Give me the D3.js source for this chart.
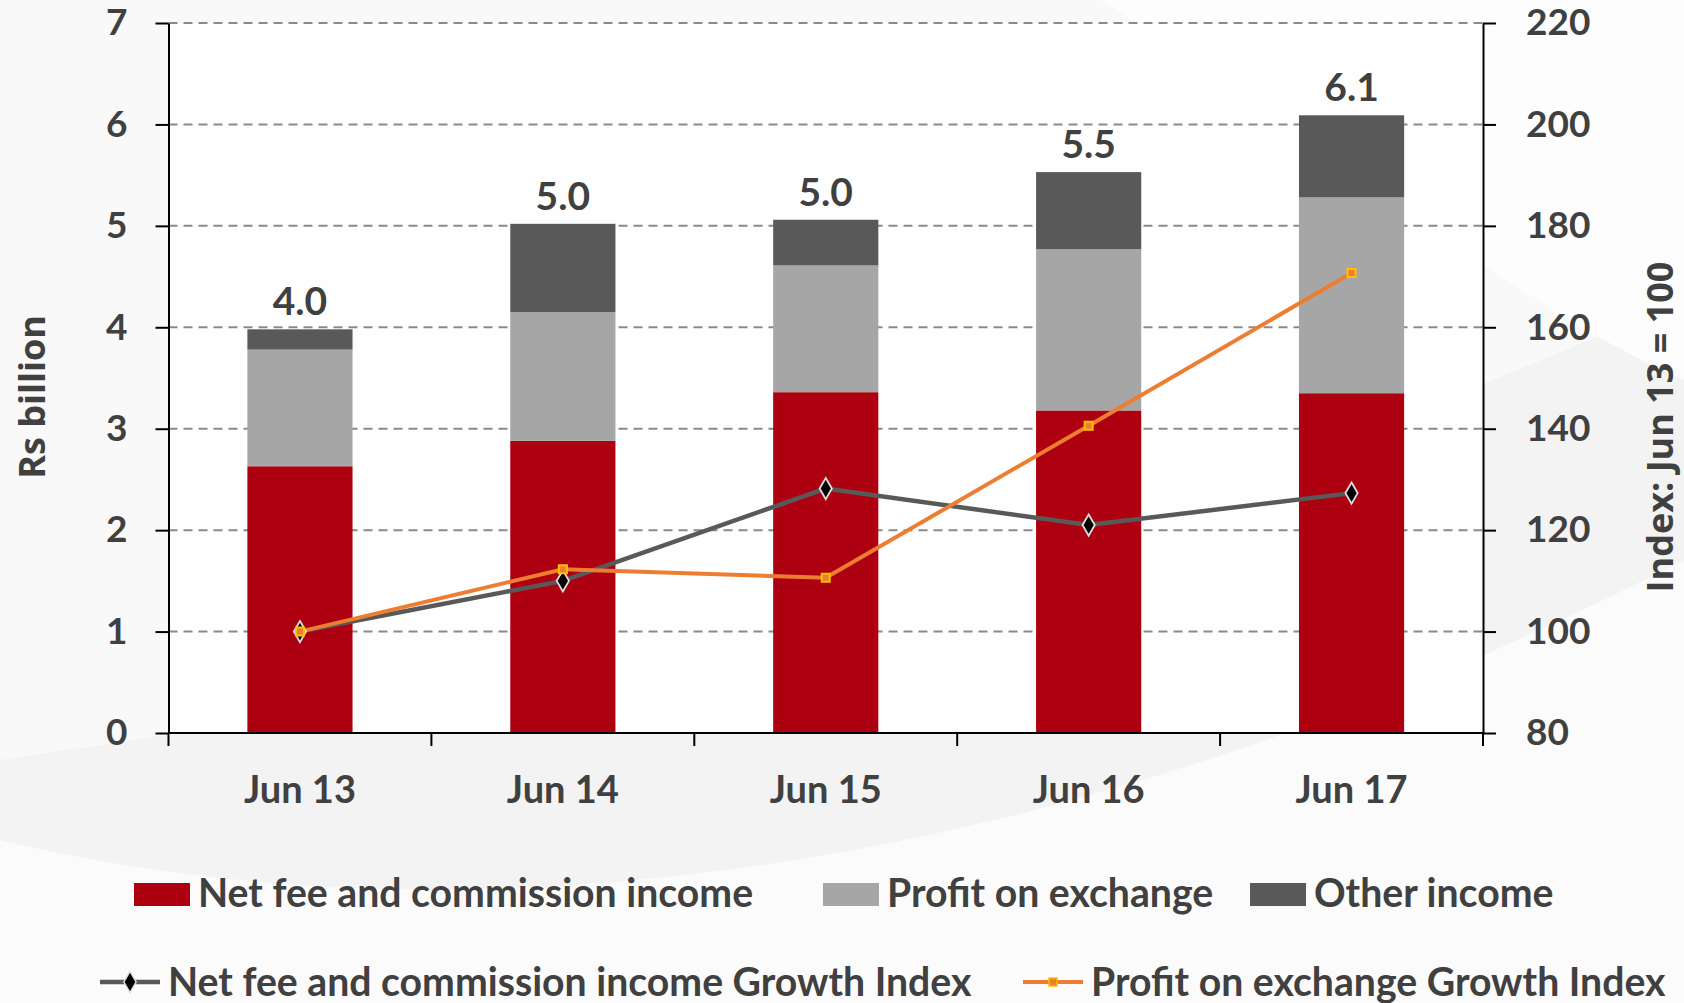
<!DOCTYPE html>
<html>
<head>
<meta charset="utf-8">
<script src="https://cdn.jsdelivr.net/npm/d3@7"></script>
<style>
  html, body { margin: 0; padding: 0; background: #fafafa; }
  svg { display: block; }
  .tick text { font-family: Lato, "Liberation Sans", sans-serif; font-weight: 700; fill: #404040; }
</style>
</head>
<body>
<svg id="chart"></svg>
<script>
"use strict";

// values
var categories = ['Jun 13', 'Jun 14', 'Jun 15', 'Jun 16', 'Jun 17'];
var netFee = [2.63, 2.88, 3.36, 3.18, 3.35];
var exchange = [1.15, 1.27, 1.25, 1.59, 1.93];
var other = [0.20, 0.87, 0.45, 0.76, 0.81];
var totalLabels = ['4.0', '5.0', '5.0', '5.5', '6.1'];
var netFeeIndex = [100, 110, 128.2, 121, 127.3];
var exchangeIndex = [100, 112.3, 110.6, 140.6, 170.7];
var leftTicks = [0, 1, 2, 3, 4, 5, 6, 7];
var rightTicks = [80, 100, 120, 140, 160, 180, 200, 220];

var W = 1684, H = 1003;
var svg = d3.select('#chart').attr('width', W).attr('height', H);

// faint background swooshes
var bg = svg.append('g');
bg.append('rect').attr('width', W).attr('height', H).attr('fill', '#f9f9f9');
bg.append('path')
  .attr('d', 'M0 760 C400 700 900 640 1684 300 L1684 1003 L0 1003 Z')
  .attr('fill', '#f3f3f3');
bg.append('path')
  .attr('d', 'M0 840 C500 960 1100 860 1684 560 L1684 1003 L0 1003 Z')
  .attr('fill', '#fbfbfb');
bg.append('path')
  .attr('d', 'M1100 0 C1300 120 1500 300 1684 380 L1684 0 Z')
  .attr('fill', '#fdfdfd');

var pLeft = 168.5, pRight = 1483, pTop = 23, pBottom = 733;

bg.append('rect')
  .attr('x', pLeft).attr('y', pTop)
  .attr('width', pRight - pLeft).attr('height', pBottom - pTop)
  .attr('fill', '#fefefe');

var x = d3.scaleBand()
  .domain(categories)
  .range([pLeft, pRight])
  .paddingInner(0.6)
  .paddingOuter(0.3);

var yL = d3.scaleLinear().domain([0, 7]).range([pBottom, pTop]);
var yR = d3.scaleLinear().domain([80, 220]).range([pBottom, pTop]);

// dashed gridlines
svg.append('g')
  .selectAll('line')
  .data(leftTicks.filter(function (d) { return d > 0; }))
  .join('line')
  .attr('x1', pLeft).attr('x2', pRight)
  .attr('y1', function (d) { return yL(d); })
  .attr('y2', function (d) { return yL(d); })
  .attr('stroke', '#8a8a8a')
  .attr('stroke-width', 2)
  .attr('stroke-dasharray', '9,6');

// stacked bars
var rows = categories.map(function (c, i) {
  return { cat: c, netFee: netFee[i], exchange: exchange[i], other: other[i] };
});
var keys = ['netFee', 'exchange', 'other'];
var colors = { netFee: '#ad0010', exchange: '#a6a6a6', other: '#595959' };
var stacked = d3.stack().keys(keys)(rows);

svg.append('g')
  .selectAll('g')
  .data(stacked)
  .join('g')
  .attr('fill', function (s) { return colors[s.key]; })
  .selectAll('rect')
  .data(function (s) { return s; })
  .join('rect')
  .attr('x', function (d) { return x(d.data.cat); })
  .attr('width', x.bandwidth())
  .attr('y', function (d) { return yL(d[1]); })
  .attr('height', function (d) { return yL(d[0]) - yL(d[1]); });

// totals on top
svg.append('g')
  .selectAll('text')
  .data(rows)
  .join('text')
  .attr('x', function (d) { return x(d.cat) + x.bandwidth() / 2; })
  .attr('y', function (d) { return yL(d.netFee + d.exchange + d.other) - 14; })
  .attr('text-anchor', 'middle')
  .attr('font-family', 'Lato, sans-serif')
  .attr('font-weight', 700)
  .attr('font-size', 39)
  .attr('fill', '#404040')
  .text(function (d, i) { return totalLabels[i]; });

// axes
var axisL = svg.append('g')
  .attr('transform', 'translate(' + pLeft + ',0)')
  .call(d3.axisLeft(yL).tickValues(leftTicks).tickSize(13).tickSizeOuter(0).tickPadding(28).tickFormat(d3.format('d')));
var axisR = svg.append('g')
  .attr('transform', 'translate(' + pRight + ',0)')
  .call(d3.axisRight(yR).tickValues(rightTicks).tickSize(13).tickSizeOuter(0).tickPadding(30).tickFormat(d3.format('d')));
var axisB = svg.append('g')
  .attr('transform', 'translate(0,' + pBottom + ')')
  .call(d3.axisBottom(x).tickSize(0).tickPadding(43));

[axisL, axisR].forEach(function (a) {
  a.selectAll('text').attr('font-size', 37);
});
axisB.selectAll('text').attr('font-size', 38);
axisB.select('.domain').attr('d', 'M' + pLeft + ',0H' + pRight);

// category boundary ticks
var bounds = categories.map(function (c) { return x(c) - x.step() * 0.3; });
bounds.push(pRight);
axisB.selectAll('.bound')
  .data(bounds)
  .join('line')
  .attr('class', 'bound')
  .attr('x1', function (d) { return d; })
  .attr('x2', function (d) { return d; })
  .attr('y1', 0).attr('y2', 13);

svg.selectAll('.domain, .tick line, .bound')
  .attr('stroke', '#000')
  .attr('stroke-width', 2);

// index lines
var cx = function (d, i) { return x(categories[i]) + x.bandwidth() / 2; };
var lineR = d3.line().x(cx).y(function (d) { return yR(d); });

svg.append('path')
  .datum(netFeeIndex)
  .attr('d', lineR)
  .attr('fill', 'none')
  .attr('stroke', '#595959')
  .attr('stroke-width', 4.5);

svg.append('path')
  .datum(exchangeIndex)
  .attr('d', lineR)
  .attr('fill', 'none')
  .attr('stroke', '#ed7d31')
  .attr('stroke-width', 4);

var diamond = d3.symbol().type(d3.symbolDiamond).size(130);
var square = d3.symbol().type(d3.symbolSquare).size(64);

svg.append('g')
  .selectAll('path')
  .data(netFeeIndex)
  .join('path')
  .attr('transform', function (d, i) { return 'translate(' + cx(d, i) + ',' + yR(d) + ')'; })
  .attr('d', diamond)
  .attr('fill', '#000')
  .attr('stroke', '#e0e0e0')
  .attr('stroke-width', 1.8);

svg.append('g')
  .selectAll('path')
  .data(exchangeIndex)
  .join('path')
  .attr('transform', function (d, i) { return 'translate(' + cx(d, i) + ',' + yR(d) + ')'; })
  .attr('d', square)
  .attr('fill', '#ed7d31')
  .attr('stroke', '#ffc000')
  .attr('stroke-width', 2);

// axis titles
svg.append('text')
  .attr('transform', 'translate(45,397) rotate(-90)')
  .attr('text-anchor', 'middle')
  .attr('font-family', '"Open Sans", sans-serif')
  .attr('font-weight', 700)
  .attr('font-size', 36)
  .attr('fill', '#404040')
  .text('Rs billion');

svg.append('text')
  .attr('transform', 'translate(1673,427) rotate(-90)')
  .attr('text-anchor', 'middle')
  .attr('font-family', '"Open Sans", sans-serif')
  .attr('font-weight', 700)
  .attr('font-size', 36)
  .attr('fill', '#404040')
  .text('Index: Jun 13 = 100');

// legend
var legendFont = function (sel) {
  sel.attr('font-family', 'Lato, sans-serif')
    .attr('font-weight', 700)
    .attr('font-size', 39.2)
    .attr('fill', '#404040');
};

var barLegend = [
  { label: 'Net fee and commission income', color: colors.netFee, x: 134 },
  { label: 'Profit on exchange', color: colors.exchange, x: 823 },
  { label: 'Other income', color: colors.other, x: 1250 }
];
var lg = svg.append('g');
barLegend.forEach(function (d) {
  lg.append('rect').attr('x', d.x).attr('y', 883).attr('width', 56).attr('height', 23).attr('fill', d.color);
  lg.append('text').attr('x', d.x + 64).attr('y', 907).text(d.label).call(legendFont);
});

var lineLegend = [
  { label: 'Net fee and commission income Growth Index', x: 100, stroke: '#595959', width: 4.5, sym: diamond, fill: '#000', ms: '#e0e0e0' },
  { label: 'Profit on exchange Growth Index', x: 1023, stroke: '#ed7d31', width: 4, sym: square, fill: '#ed7d31', ms: '#ffc000' }
];
lineLegend.forEach(function (d) {
  lg.append('line').attr('x1', d.x).attr('x2', d.x + 60).attr('y1', 982).attr('y2', 982)
    .attr('stroke', d.stroke).attr('stroke-width', d.width);
  lg.append('path').attr('transform', 'translate(' + (d.x + 30) + ',982)').attr('d', d.sym)
    .attr('fill', d.fill).attr('stroke', d.ms).attr('stroke-width', 1.5);
  lg.append('text').attr('x', d.x + 68).attr('y', 996).text(d.label).call(legendFont);
});
</script>
</body>
</html>
